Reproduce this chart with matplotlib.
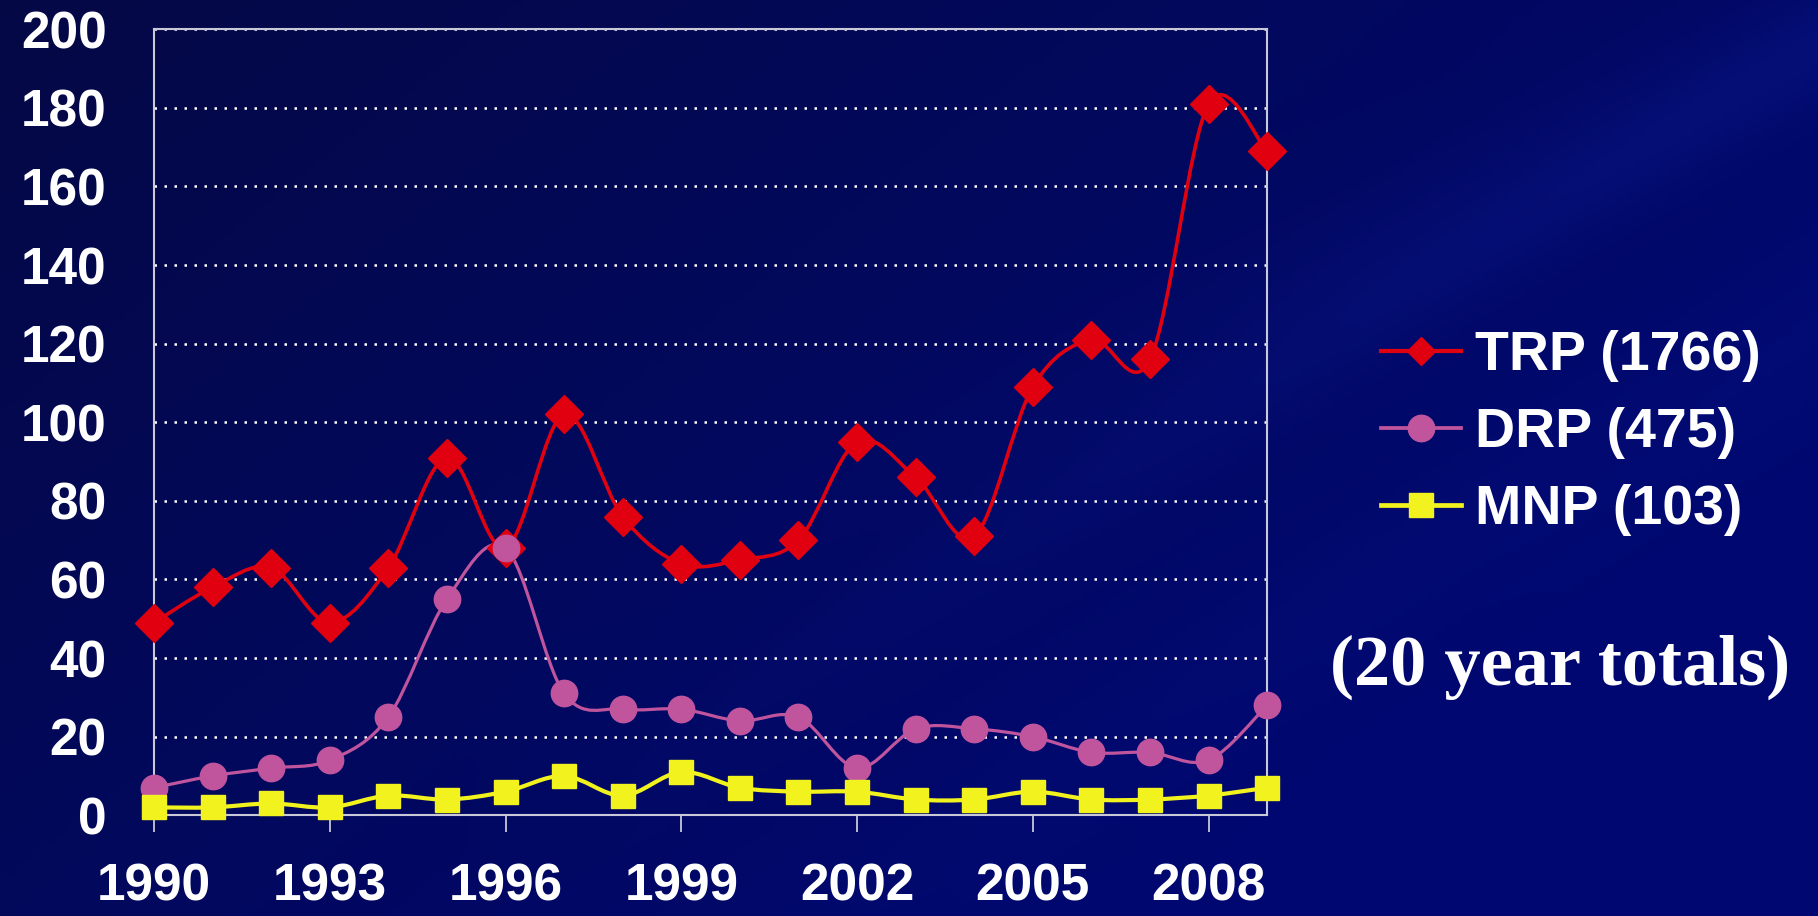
import numpy as np
import matplotlib
matplotlib.use("Agg")
import matplotlib.pyplot as plt
from matplotlib.path import Path
from matplotlib.patches import PathPatch
from matplotlib.lines import Line2D
from matplotlib.font_manager import FontProperties

years = list(range(1990, 2010))
trp = [49, 58, 63, 49, 63, 91, 68, 102, 76, 64, 65, 70, 95, 86, 71, 109, 121, 116, 181, 169]
drp = [7, 10, 12, 14, 25, 55, 68, 31, 27, 27, 24, 25, 12, 22, 22, 20, 16, 16, 14, 28]
mnp = [2, 2, 3, 2, 5, 4, 6, 10, 5, 11, 7, 6, 6, 4, 4, 6, 4, 4, 5, 7]
tick_years = [1990, 1993, 1996, 1999, 2002, 2005, 2008]
y_ticks = [0, 20, 40, 60, 80, 100, 120, 140, 160, 180, 200]
labels = ["TRP (1766)", "DRP (475)", "MNP (103)"]


def smooth_path(x, y):
    # Excel-style smoothed line: cubic bezier through every point
    pts = np.column_stack([x, y]).astype(float)
    n = len(pts)
    verts = [pts[0]]
    codes = [Path.MOVETO]
    for i in range(n - 1):
        p0 = pts[i - 1] if i > 0 else pts[i]
        p1 = pts[i]
        p2 = pts[i + 1]
        p3 = pts[i + 2] if i + 2 < n else pts[i + 1]
        verts += [p1 + (p2 - p0) / 6, p2 - (p3 - p1) / 6, p2]
        codes += [Path.CURVE4] * 3
    return Path(verts, codes)


fig = plt.figure(figsize=(18.18, 9.16), dpi=100)

# slide background: navy, darker top-left, soft diagonal streaks
bg = fig.add_axes([0, 0, 1, 1], zorder=-10)
gx, gy = np.meshgrid(np.linspace(0, 1, 400), np.linspace(0, 1, 200))
v = np.clip(0.3 + 0.55 * gx + 0.35 * gy, 0, 1)
c0 = np.array([0.025, 0.035, 0.20])
c1 = np.array([0.0, 0.03, 0.44])
img = c0 + (c1 - c0) * v[..., None]
streak = (np.exp(-((gy - (1.25 - 1.2 * gx)) ** 2) / 0.004) * 0.6
          + np.exp(-((gy - (1.55 - 1.2 * gx)) ** 2) / 0.01) * 0.4
          + np.exp(-((gy - (0.95 - 0.9 * gx)) ** 2) / 0.006) * 0.35)
streak *= np.clip((gx - 0.25) * 2, 0, 1)
light = np.array([0.05, 0.10, 0.55])
img = img + (light - img) * (0.4 * streak[..., None])
bg.imshow(np.clip(img, 0, 1), aspect="auto", extent=[0, 1, 0, 1], origin="upper")
bg.axis("off")

ax = fig.add_axes([0.0847, 0.110, 0.6123, 0.858])
ax.set_facecolor("none")

series = [
    (trp, "#e0000f", "D", 19, 2.6, 0.75),
    (drp, "#c0559e", "o", 19, 2.3, 1.0),
    (mnp, "#f2f21e", "s", 17, 3.0, 1.0),
]
handles = []
for vals, col, mk, ms, lw, lscale in series:
    ax.add_patch(PathPatch(smooth_path(years, vals), facecolor="none",
                           edgecolor=col, lw=lw, zorder=3, clip_on=False))
    ax.plot(years, vals, linestyle="none", marker=mk, ms=ms, color=col,
            mec=col, zorder=4, clip_on=False)
    handles.append(Line2D([], [], color=col, lw=lw + 0.4, marker=mk,
                          ms=ms * lscale))

ax.set_xlim(1990, 2009)
ax.set_ylim(0, 200)
ax.set_yticks(y_ticks)
ax.set_xticks(tick_years)
ax.grid(axis="y", color="white", linestyle=(0, (1, 3)), linewidth=1.8)
ax.set_axisbelow(True)
for s in ax.spines.values():
    s.set_color("#c8c8d8")
    s.set_linewidth(1.5)

font = FontProperties(family="Liberation Sans", weight="bold", size=37)
ax.tick_params(axis="y", length=0, pad=34, labelcolor="white")
ax.tick_params(axis="x", length=12, width=1.3, color="#c8c8d8", pad=22,
               labelcolor="white")
for lab in ax.get_xticklabels() + ax.get_yticklabels():
    lab.set_fontproperties(font)

fig.legend(handles, labels, loc="center left", bbox_to_anchor=(0.732, 0.527),
           frameon=False, handlelength=1.45, handletextpad=0.25,
           labelspacing=0.45, labelcolor="white",
           prop=FontProperties(family="Liberation Sans", weight="bold", size=40))

fig.text(0.858, 0.272, "(20 year totals)", ha="center", va="center",
         color="white", family="Liberation Serif", weight="bold", size=52)

fig.savefig("out.png", dpi=100)
